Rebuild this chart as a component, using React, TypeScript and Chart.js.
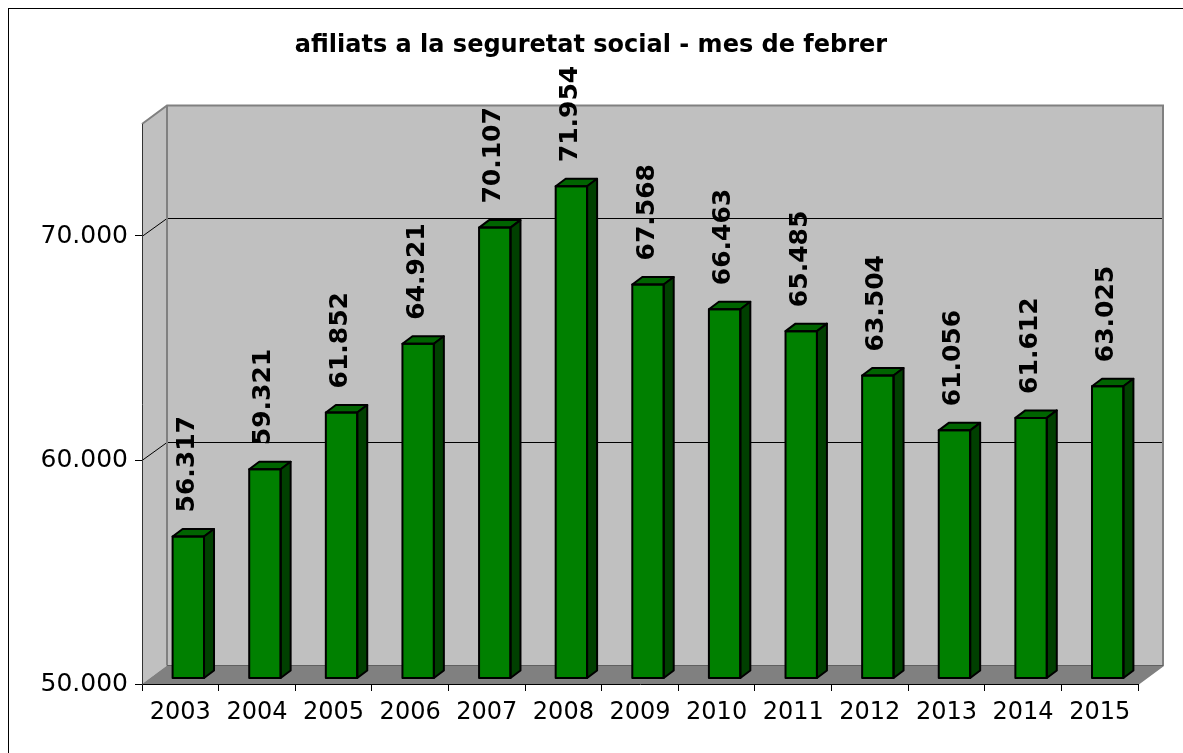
import React, { useEffect, useRef } from "react";
import { Chart, registerables } from "chart.js";

Chart.register(...registerables);

const title = "afiliats a la seguretat social - mes de febrer";
const categories = ["2003", "2004", "2005", "2006", "2007", "2008", "2009", "2010", "2011", "2012", "2013", "2014", "2015"];
const values = [56317, 59321, 61852, 64921, 70107, 71954, 67568, 66463, 65485, 63504, 61056, 61612, 63025];
const yTicks = [50000, 60000, 70000];
const yMin = 50000;
const yMax = 75000;

const fmt = (v: number) => {
  const t = Math.floor(v / 1000);
  const r = Math.round(v % 1000);
  return t + "." + String(r).padStart(3, "0");
};

// 3D geometry
const WX = 25, WY = -18.5; // wall depth
const BX = 8, BY = -6; // bar front offset
const DX = 10, DY = -7.5; // bar depth

const threeD = {
  id: "threeD",
  beforeDraw(chart: any) {
    const ctx = chart.ctx;
    const { left, right, top, bottom } = chart.chartArea;
    const ys = chart.scales.y;
    ctx.save();
    // title
    ctx.fillStyle = "#000";
    ctx.font = "bold 24px 'DejaVu Sans'";
    ctx.textAlign = "center";
    ctx.textBaseline = "alphabetic";
    ctx.fillText(title, 591, 52);
    // back wall
    ctx.fillStyle = "#C0C0C0";
    ctx.fillRect(left + WX, top + WY, right - left, bottom - top);
    // left wall
    ctx.beginPath();
    ctx.moveTo(left, top);
    ctx.lineTo(left + WX, top + WY);
    ctx.lineTo(left + WX, bottom + WY);
    ctx.lineTo(left, bottom);
    ctx.closePath();
    ctx.fill();
    // floor
    ctx.fillStyle = "#808080";
    ctx.beginPath();
    ctx.moveTo(left, bottom);
    ctx.lineTo(right, bottom);
    ctx.lineTo(right + WX, bottom + WY);
    ctx.lineTo(left + WX, bottom + WY);
    ctx.closePath();
    ctx.fill();
    // gridlines
    ctx.strokeStyle = "#000";
    ctx.lineWidth = 1;
    for (const v of yTicks) {
      if (v === yMin) continue;
      const py = Math.round(ys.getPixelForValue(v)) + 0.5;
      ctx.beginPath();
      ctx.moveTo(left, py);
      ctx.lineTo(left + WX, Math.round(py + WY) + 0.5);
      ctx.lineTo(right + WX, Math.round(py + WY) + 0.5);
      ctx.stroke();
    }
    // wall edges
    ctx.strokeStyle = "#808080";
    ctx.lineWidth = 2;
    ctx.beginPath();
    ctx.moveTo(left, top);
    ctx.lineTo(left + WX, top + WY);
    ctx.lineTo(right + WX, top + WY);
    ctx.lineTo(right + WX, bottom + WY);
    ctx.lineTo(right, bottom);
    ctx.stroke();
    ctx.beginPath();
    ctx.moveTo(left + WX, top + WY);
    ctx.lineTo(left + WX, bottom + WY);
    ctx.stroke();
    ctx.strokeStyle = "#606060";
    ctx.lineWidth = 1;
    ctx.beginPath();
    ctx.moveTo(left + WX, bottom + WY);
    ctx.lineTo(right + WX, bottom + WY);
    ctx.stroke();
    ctx.restore();
  },
  beforeDatasetsDraw(chart: any) {
    chart.ctx.save();
    chart.ctx.translate(BX, BY);
  },
  afterDatasetsDraw(chart: any) {
    const ctx = chart.ctx;
    ctx.restore();
    const meta = chart.getDatasetMeta(0);
    const ys = chart.scales.y;
    ctx.save();
    ctx.strokeStyle = "#000";
    ctx.lineWidth = 2;
    ctx.lineJoin = "round";
    meta.data.forEach((el: any, i: number) => {
      const p = el.getProps(["x", "y", "width"], true);
      const l = p.x - p.width / 2 + BX;
      const r = p.x + p.width / 2 + BX;
      const t = p.y + BY;
      const b = ys.getPixelForValue(yMin) + BY;
      // top face
      ctx.fillStyle = "#006400";
      ctx.beginPath();
      ctx.moveTo(l, t);
      ctx.lineTo(l + DX, t + DY);
      ctx.lineTo(r + DX, t + DY);
      ctx.lineTo(r, t);
      ctx.closePath();
      ctx.fill();
      ctx.stroke();
      // side face
      ctx.fillStyle = "#004000";
      ctx.beginPath();
      ctx.moveTo(r, t);
      ctx.lineTo(r + DX, t + DY);
      ctx.lineTo(r + DX, b + DY);
      ctx.lineTo(r, b);
      ctx.closePath();
      ctx.fill();
      ctx.stroke();
      // front outline
      ctx.strokeRect(l, t, r - l, b - t);
      // label
      ctx.save();
      ctx.fillStyle = "#000";
      ctx.font = "bold 25px 'DejaVu Sans'";
      ctx.translate((l + r) / 2 - 1, t - 24);
      ctx.rotate(-Math.PI / 2);
      ctx.textAlign = "left";
      ctx.textBaseline = "middle";
      ctx.fillText(fmt(values[i]), 0, 0);
      ctx.restore();
    });
    ctx.restore();
  },
};

export default function App() {
  const ref = useRef<HTMLCanvasElement>(null);
  useEffect(() => {
    if (!ref.current) return;
    const chart = new Chart(ref.current, {
      type: "bar",
      data: {
        labels: categories,
        datasets: [
          {
            data: values,
            base: yMin,
            backgroundColor: "#008000",
            borderColor: "#000",
            borderWidth: 0,
            barPercentage: 0.41,
            categoryPercentage: 1,
          } as any,
        ],
      },
      options: {
        responsive: false,
        animation: false,
        layout: { padding: { top: 124, right: 45, left: 0, bottom: 0 } },
        plugins: { legend: { display: false }, tooltip: { enabled: false }, title: { display: false } },
        scales: {
          x: {
            offset: true,
            grid: { drawOnChartArea: false, tickLength: 7, color: "#000", offset: true },
            border: { color: "#000", width: 1 },
            ticks: { font: { family: "DejaVu Sans", size: 24 }, color: "#000", padding: 7, maxRotation: 0, autoSkip: false },
            afterFit: (s: any) => {
              s.height = 69;
            },
          },
          y: {
            min: yMin,
            max: yMax,
            afterBuildTicks: (s: any) => {
              s.ticks = yTicks.map((v) => ({ value: v }));
            },
            grid: { drawOnChartArea: false, tickLength: 7, color: "#000" },
            border: { color: "#333", width: 1 },
            ticks: {
              font: { family: "DejaVu Sans", size: 25 },
              color: "#000",
              padding: 7,
              callback: (v: any) => fmt(Number(v)),
            },
            afterFit: (s: any) => {
              s.width = 142;
            },
          },
        },
      },
      plugins: [threeD],
    });
    return () => chart.destroy();
  }, []);
  return (
    <div style={{ position: "fixed", left: 0, top: 0, width: 1183, height: 753, overflow: "hidden", background: "#fff" }}>
      <div
        style={{
          position: "absolute",
          left: 8,
          top: 8,
          width: 1300,
          height: 900,
          borderLeft: "1px solid #000",
          borderTop: "1px solid #000",
        }}
      />
      <canvas ref={ref} width={1183} height={753} style={{ position: "absolute", left: 0, top: 0, display: "block" }} />
    </div>
  );
}
